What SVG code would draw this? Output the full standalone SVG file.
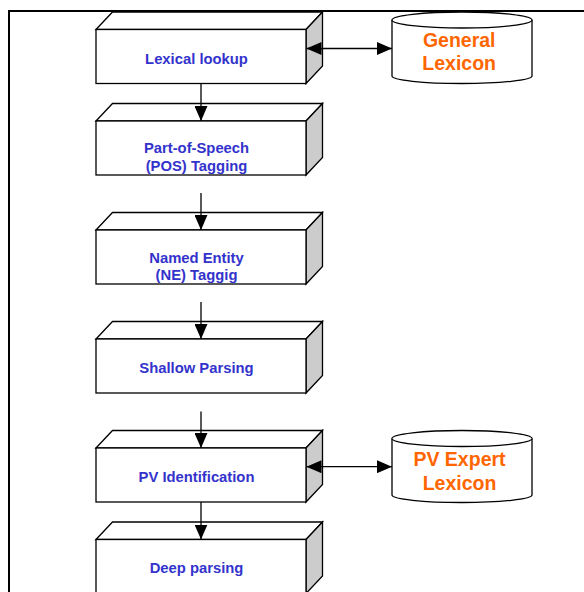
<svg xmlns="http://www.w3.org/2000/svg" xmlns:xlink="http://www.w3.org/1999/xlink" width="584" height="592" viewBox="0 0 584 592">
<style>
.face{fill:#FFFFFF;stroke:#000000;stroke-width:1.3;stroke-linejoin:miter}
.side{fill:#CCCCCC;stroke:#000000;stroke-width:1.3}
.lbl{font-family:"Liberation Sans",Arial,sans-serif;font-weight:bold;font-size:14.8px;fill:#3333CC;text-anchor:middle}
.db{font-family:"Liberation Sans",Arial,sans-serif;font-weight:bold;font-size:19.5px;fill:#FF6600;text-anchor:middle}
.cyl{fill:#FFFFFF;stroke:#000000;stroke-width:1.3}
.conn{fill:none;stroke:#000000;stroke-width:1.3}
</style>
<defs>
<marker id="ah" markerUnits="userSpaceOnUse" markerWidth="15" markerHeight="13" refX="15" refY="6.5" orient="auto-start-reverse" viewBox="0 0 15 13">
<path d="M0,0 L15,6.5 L0,13 Z" fill="#000000"/>
</marker>
<g id="box3d">
<polygon class="face" points="0,0 16.5,-17.5 226.5,-17.5 210,0"/>
<polygon class="side" points="210,0 226.5,-17.5 226.5,36.5 210,54"/>
<rect class="face" x="0" y="0" width="210" height="54"/>
</g>
</defs>
<rect x="0" y="0" width="584" height="592" fill="#FFFFFF"/>
<path d="M9,592 V11 H584" fill="none" stroke="#000000" stroke-width="2"/>

<g id="n1" transform="translate(96,29.5)">
<use xlink:href="#box3d"/>
<text class="lbl" x="100.5" y="34.5">Lexical lookup</text>
</g>
<g id="n2" transform="translate(96,121)">
<use xlink:href="#box3d"/>
<text class="lbl" x="100.5" y="31.7">Part-of-Speech</text>
<text class="lbl" x="100.5" y="49.7">(POS) Tagging</text>
</g>
<g id="n3" transform="translate(96,230)">
<use xlink:href="#box3d"/>
<text class="lbl" x="100.5" y="32.5">Named Entity</text>
<text class="lbl" x="100.5" y="50.3">(NE) Taggig</text>
</g>
<g id="n4" transform="translate(96,339)">
<use xlink:href="#box3d"/>
<text class="lbl" x="100.5" y="34.3">Shallow Parsing</text>
</g>
<g id="n5" transform="translate(96,448)">
<use xlink:href="#box3d"/>
<text class="lbl" x="100.5" y="33.6">PV Identification</text>
</g>
<g id="n6" transform="translate(96,539.5)">
<use xlink:href="#box3d"/>
<text class="lbl" x="100.5" y="33.8">Deep parsing</text>
</g>

<g id="db1">
<path class="cyl" d="M392,20 A70,8 0 0 1 532,20 V76 A70,7.5 0 0 1 392,76 Z"/>
<path class="cyl" d="M392,20 A70,8 0 0 0 532,20" fill="none"/>
<text class="db" x="459.2" y="46.7">General</text>
<text class="db" x="459.2" y="70.3">Lexicon</text>
</g>
<g id="db2">
<path class="cyl" d="M392,438.5 A70,8 0 0 1 532,438.5 V495 A70,7.5 0 0 1 392,495 Z"/>
<path class="cyl" d="M392,438.5 A70,8 0 0 0 532,438.5" fill="none"/>
<text class="db" x="459.5" y="466">PV Expert</text>
<text class="db" x="459.5" y="490">Lexicon</text>
</g>

<g id="connectors">
<line class="conn" x1="201" y1="83.5" x2="201" y2="121" marker-end="url(#ah)"/>
<line class="conn" x1="201" y1="193" x2="201" y2="230" marker-end="url(#ah)"/>
<line class="conn" x1="201" y1="302" x2="201" y2="339" marker-end="url(#ah)"/>
<line class="conn" x1="201" y1="411.5" x2="201" y2="448" marker-end="url(#ah)"/>
<line class="conn" x1="201" y1="502" x2="201" y2="539.5" marker-end="url(#ah)"/>
<line class="conn" x1="306.5" y1="48.5" x2="392" y2="48.5" marker-start="url(#ah)" marker-end="url(#ah)"/>
<line class="conn" x1="306.5" y1="466.7" x2="392" y2="466.7" marker-start="url(#ah)" marker-end="url(#ah)"/>
</g>
</svg>
